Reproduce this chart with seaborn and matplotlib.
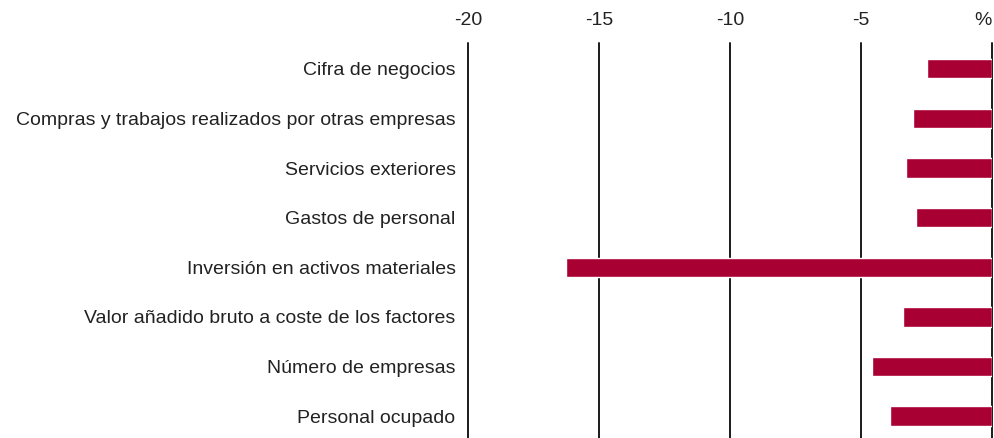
import pandas as pd
import seaborn as sns
import matplotlib.pyplot as plt

# Chart data
categories = [
    'Cifra de negocios',
    'Compras y trabajos realizados por otras empresas',
    'Servicios exteriores',
    'Gastos de personal',
    'Inversión en activos materiales',
    'Valor añadido bruto a coste de los factores',
    'Número de empresas',
    'Personal ocupado',
]
values = [-2.5, -3.0, -3.3, -2.9, -16.25, -3.4, -4.6, -3.9]
tick_values = [-20, -15, -10, -5, 0]
tick_labels = ['-20', '-15', '-10', '-5', '%']

data = pd.DataFrame({'categoria': categories, 'valor': values})

sns.set_style('white')
plt.rcParams['font.family'] = ['Liberation Sans', 'DejaVu Sans']

fig = plt.figure(figsize=(9.95, 4.38), dpi=100)
ax = fig.add_axes([0.4704, 0.0, 0.5266, 0.9018])

# Gridlines behind the bars
for t in tick_values:
    ax.axvline(t, color='#1a1a1a', lw=1.4, zorder=0, clip_on=False)

sns.barplot(data=data, x='valor', y='categoria', orient='h',
            color='#A90034', width=0.39, saturation=1, ax=ax, zorder=2)

ax.set_xlim(-20, 0)
ax.set_ylim(7.44, -0.52)
ax.xaxis.tick_top()
ax.set_xticks(tick_values)
ax.set_xticklabels(tick_labels, fontsize=14, color='#222222')
ax.get_xticklabels()[-1].set_horizontalalignment('right')
ax.tick_params(axis='x', length=0, pad=10)
ax.tick_params(axis='y', length=0, pad=9, labelsize=14, labelcolor='#222222')
ax.set_xlabel('')
ax.set_ylabel('')
for s in ax.spines.values():
    s.set_visible(False)

fig.savefig('out.png', dpi=100)
